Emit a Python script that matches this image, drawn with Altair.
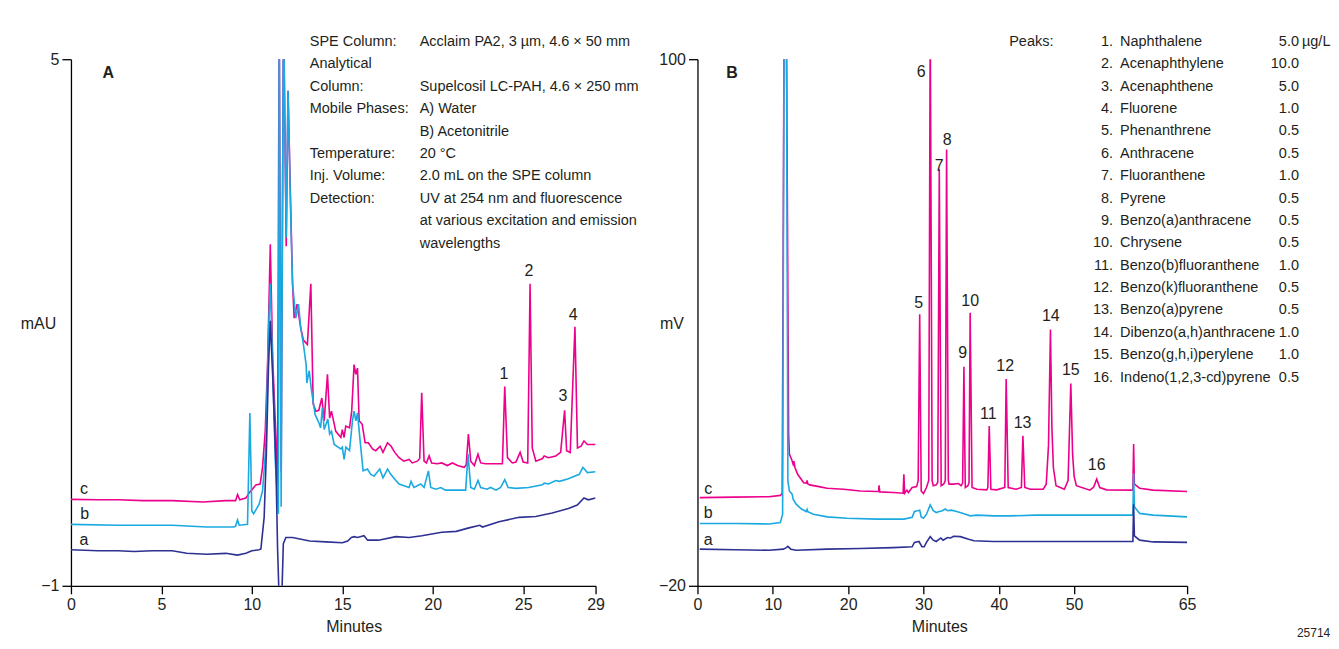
import altair as alt
import pandas as pd

FONT = "Liberation Sans, Arial, Helvetica, sans-serif"
INK = "#231f20"
COL_A = "#2e3192"   # trace a (navy)
COL_B = "#1ba9e1"   # trace b (cyan)
COL_C = "#ec008c"   # trace c (magenta)

# ---------------- Panel A (UV, mAU vs minutes) ----------------
A_XTICKS = [0, 5, 10, 15, 20, 25, 29]
A_YTICKS = [-1, 5]

A_a = [(0.0, -0.59), (1.5, -0.60), (2.6, -0.60), (3.5, -0.61), (4.5, -0.60), (5.6, -0.60),
       (6.4, -0.63), (7.5, -0.64), (8.56, -0.63), (9.2, -0.65), (9.67, -0.63), (10.0, -0.60),
       (10.4, -0.59), (10.5, -0.58), (10.68, -0.22), (10.8, 0.50), (10.92, 1.50), (11.02, 2.02),
       (11.15, 1.40), (11.33, 0.39), (11.42, -0.56), (11.5, -1.10), (11.66, -1.10), (11.74, -0.52),
       (11.88, -0.45), (12.25, -0.45), (13.2, -0.49), (14.1, -0.50), (15.0, -0.51), (15.3, -0.49),
       (15.5, -0.45), (15.66, -0.44), (15.84, -0.45), (16.2, -0.43), (16.4, -0.48), (17.0, -0.48),
       (17.96, -0.44), (18.7, -0.45), (19.4, -0.43), (20.5, -0.39), (21.3, -0.38), (22.0, -0.34),
       (22.6, -0.31), (22.75, -0.33), (23.66, -0.27), (24.77, -0.22), (25.69, -0.21), (26.6, -0.17),
       (27.5, -0.12), (27.99, -0.08), (28.36, 0.00), (28.6, -0.02), (29.0, 0.00)]

A_b = [(0.0, -0.30), (2.6, -0.31), (5.6, -0.31), (7.5, -0.33), (9.0, -0.33), (9.1, -0.32),
       (9.21, -0.25), (9.3, -0.31), (9.76, -0.30), (9.89, 0.97), (10.0, -0.15), (10.1, -0.18),
       (10.4, -0.07), (10.59, 0.08), (10.77, 0.57), (10.92, 1.9), (11.02, 2.44), (11.15, 1.5),
       (11.3, 0.4), (11.47, -0.18), (11.51, 5.6), (11.62, -0.1), (11.75, 5.6), (11.9, 2.97),
       (12.0, 4.64), (12.15, 3.19), (12.25, 2.44), (12.43, 2.05), (12.58, 2.21), (12.7, 1.94),
       (12.85, 1.75), (13.0, 1.52), (13.04, 1.31), (13.17, 1.45), (13.3, 1.22), (13.5, 0.95),
       (13.7, 0.86), (13.8, 0.80), (13.9, 1.03), (14.0, 0.78), (14.2, 0.90), (14.3, 0.73),
       (14.4, 0.76), (14.55, 0.61), (14.92, 0.56), (15.0, 0.58), (15.1, 0.44), (15.2, 0.58),
       (15.4, 0.54), (15.56, 0.88), (15.65, 0.99), (15.75, 0.88), (15.84, 0.97), (16.0, 0.62),
       (16.15, 0.31), (16.39, 0.33), (16.57, 0.27), (16.76, 0.25), (17.07, 0.33), (17.25, 0.23),
       (17.5, 0.33), (17.68, 0.27), (17.96, 0.20), (18.14, 0.16), (18.69, 0.12), (18.8, 0.19),
       (18.96, 0.12), (19.34, 0.16), (19.52, 0.12), (19.76, 0.31), (19.89, 0.12), (20.17, 0.10),
       (20.45, 0.12), (20.7, 0.09), (21.26, 0.09), (21.82, 0.09), (21.95, 0.50), (22.1, 0.12),
       (22.3, 0.10), (22.5, 0.20), (22.65, 0.12), (23.0, 0.10), (23.2, 0.12), (23.5, 0.09),
       (23.75, 0.12), (23.98, 0.21), (24.17, 0.12), (24.6, 0.11), (25.3, 0.12), (26.06, 0.15),
       (26.16, 0.17), (26.4, 0.16), (26.8, 0.20), (27.0, 0.19), (27.5, 0.22), (27.86, 0.25),
       (28.1, 0.27), (28.3, 0.35), (28.55, 0.29), (29.0, 0.30)]

A_c = [(0.0, -0.015), (1.5, -0.02), (2.6, -0.02), (4.0, -0.03), (5.6, -0.03), (7.3, -0.045),
       (8.56, -0.03), (9.1, -0.03), (9.21, 0.04), (9.33, -0.02), (9.67, 0.0), (9.89, 0.07),
       (10.03, 0.10), (10.22, 0.15), (10.46, 0.16), (10.59, 0.35), (10.74, 0.76), (10.87, 1.53),
       (11.02, 2.89), (11.15, 1.6), (11.33, 0.7), (11.42, 0.12), (11.51, 5.6), (11.62, 0.3),
       (11.75, 5.6), (11.9, 2.87), (12.0, 4.64), (12.15, 3.3), (12.25, 2.44), (12.34, 2.05),
       (12.5, 2.21), (12.7, 1.94), (12.85, 1.8), (13.07, 1.75), (13.26, 2.44), (13.39, 1.07),
       (13.54, 0.99), (13.7, 1.0), (13.87, 1.14), (14.0, 0.88), (14.18, 1.41), (14.3, 0.91),
       (14.4, 0.99), (14.64, 0.76), (14.92, 0.69), (15.0, 0.78), (15.1, 0.69), (15.19, 0.82),
       (15.4, 0.80), (15.52, 0.99), (15.65, 1.52), (15.75, 1.41), (15.84, 1.48), (15.93, 0.88),
       (16.1, 0.84), (16.26, 0.63), (16.44, 0.63), (16.67, 0.56), (16.85, 0.54), (17.09, 0.59),
       (17.25, 0.52), (17.5, 0.63), (17.7, 0.59), (17.9, 0.52), (18.14, 0.46), (18.4, 0.42),
       (18.69, 0.44), (18.87, 0.40), (19.15, 0.42), (19.28, 0.45), (19.39, 1.20), (19.52, 0.42),
       (19.65, 0.40), (19.8, 0.48), (19.94, 0.40), (20.25, 0.39), (20.5, 0.40), (20.8, 0.37),
       (21.09, 0.40), (21.37, 0.37), (21.74, 0.35), (21.85, 0.38), (21.97, 0.73), (22.1, 0.42),
       (22.3, 0.37), (22.5, 0.50), (22.65, 0.40), (22.9, 0.39), (23.2, 0.39), (23.57, 0.39),
       (23.85, 0.39), (23.98, 1.27), (24.13, 0.46), (24.4, 0.40), (24.6, 0.41), (24.83, 0.52),
       (25.0, 0.41), (25.25, 0.40), (25.38, 2.44), (25.5, 0.57), (25.7, 0.42), (26.07, 0.45),
       (26.16, 0.48), (26.4, 0.46), (26.8, 0.48), (27.07, 0.52), (27.29, 1.00), (27.4, 0.54),
       (27.6, 0.52), (27.86, 1.95), (28.0, 0.57), (28.2, 0.59), (28.36, 0.65), (28.55, 0.61),
       (29.0, 0.61)]

A_PEAK_LABELS = ["1", "2", "3", "4"]
A_PEAK_T = [23.94, 25.32, 27.2, 27.77]
A_PEAK_V = [1.41, 2.59, 1.16, 2.09]

A_TRACE_LABELS = ["c", "b", "a"]
A_TRACE_T = [0.72, 0.76, 0.72]
A_TRACE_V = [0.10, -0.18, -0.48]

METHOD_KEYS = ["SPE Column:", "Analytical", "Column:", "Mobile Phases:", "Temperature:",
               "Inj. Volume:", "Detection:"]
METHOD_KEY_ROWS = [0, 1, 2, 3, 5, 6, 7]
METHOD_VALUES = ["Acclaim PA2, 3 µm, 4.6 × 50 mm", "Supelcosil LC-PAH, 4.6 × 250 mm",
                 "A) Water", "B) Acetonitrile", "20 °C", "2.0 mL on the SPE column",
                 "UV at 254 nm and fluorescence", "at various excitation and emission",
                 "wavelengths"]
METHOD_VALUE_ROWS = [0, 2, 3, 4, 5, 6, 7, 8, 9]

# ---------------- Panel B (fluorescence, mV vs minutes) ----------------
B_XTICKS = [0, 10, 20, 30, 40, 50, 65]
B_YTICKS = [-20, 100]

B_a = [(0.3, -11.65), (5.0, -11.8), (9.5, -11.9), (11.4, -11.65), (11.8, -11.3), (12.0, -11.0),
       (12.4, -11.65), (13.1, -11.9), (17.2, -11.65), (21.6, -11.5), (26.0, -11.3), (28.5, -11.1),
       (28.8, -10.1), (29.4, -9.9), (29.8, -11.1), (30.1, -11.1), (30.4, -10.1), (30.9, -8.8),
       (31.3, -9.6), (31.7, -9.9), (32.3, -9.1), (32.6, -9.6), (33.2, -9.0), (33.6, -9.1),
       (34.0, -8.7), (34.9, -8.8), (36.0, -9.4), (36.7, -9.75), (39.3, -9.9), (41.6, -9.9),
       (50.0, -9.9), (57.8, -9.9), (57.9, -1.4), (58.0, -8.6), (58.7, -9.6), (60.5, -10.0),
       (65.0, -10.1)]

B_b = [(0.3, -5.8), (5.0, -5.8), (9.5, -5.9), (11.0, -5.6), (11.3, -3.7), (11.5, 110.0),
       (11.8, 110.0), (12.0, 3.9), (12.2, 1.6), (12.56, 0.88), (12.7, -0.26), (13.1, -1.4),
       (13.8, -2.5), (14.45, -3.07), (14.55, -2.6), (14.65, -3.1), (15.4, -3.7), (17.2, -4.3),
       (19.85, -4.6), (23.8, -4.8), (27.4, -4.8), (28.5, -4.4), (28.8, -3.07), (29.2, -2.9),
       (29.5, -2.76), (29.7, -4.3), (30.0, -4.6), (30.4, -3.68), (30.9, -1.55), (31.3, -2.9),
       (31.7, -3.3), (32.1, -3.07), (32.5, -2.9), (32.9, -2.5), (33.2, -2.9), (33.7, -2.76),
       (34.4, -3.07), (35.3, -3.5), (36.2, -4.06), (37.1, -3.9), (39.3, -4.06), (41.6, -4.06),
       (45.0, -3.9), (50.0, -3.9), (57.8, -3.9), (57.9, 5.66), (58.0, -2.0), (58.7, -3.5),
       (60.5, -3.9), (65.0, -4.3)]

B_c = [(0.3, 0.1), (5.0, 0.2), (9.5, 0.3), (11.0, 0.6), (11.25, 1.0), (11.5, 110.0),
       (11.8, 110.0), (12.1, 14.5), (12.2, 10.0), (12.56, 8.5), (12.7, 7.7), (12.8, 8.4),
       (12.95, 6.9), (13.3, 5.4), (14.1, 3.5), (14.45, 3.4), (14.55, 4.0), (14.65, 3.2),
       (14.9, 3.0), (16.3, 2.55), (17.2, 2.24), (19.4, 2.0), (21.6, 1.6), (23.85, 1.5),
       (24.05, 1.5), (24.1, 2.9), (24.2, 1.4), (26.0, 1.26), (27.3, 1.1), (27.4, 5.4),
       (27.5, 1.1), (27.8, 1.8), (28.0, 1.26), (28.5, 2.4), (29.1, 2.6), (29.3, 4.0),
       (29.5, 41.9), (29.7, 1.6), (30.0, 1.03), (30.4, 2.4), (30.7, 4.0), (30.9, 110.0),
       (31.15, 4.0), (31.3, 2.8), (31.7, 3.0), (31.9, 3.6), (32.1, 74.9), (32.35, 2.8),
       (32.7, 3.2), (32.9, 4.0), (33.07, 79.4), (33.3, 4.0), (33.4, 3.16), (34.0, 3.16),
       (34.65, 3.3), (35.0, 2.8), (35.2, 3.4), (35.37, 29.9), (35.55, 2.4), (35.9, 2.8),
       (36.05, 3.5), (36.2, 42.2), (36.45, 2.4), (37.1, 2.0), (38.4, 1.87), (38.55, 2.4),
       (38.73, 16.4), (38.95, 2.0), (39.7, 1.87), (40.8, 2.4), (40.98, 27.1), (41.25, 2.4),
       (42.3, 2.0), (43.0, 2.4), (43.2, 14.2), (43.45, 2.4), (44.2, 2.0), (45.9, 2.0),
       (46.3, 3.16), (46.6, 12.0), (46.86, 38.4), (47.05, 16.0), (47.25, 6.9), (47.6, 2.8),
       (48.7, 2.0), (49.2, 4.0), (49.56, 26.1), (49.8, 10.0), (50.0, 5.0), (50.3, 2.8),
       (52.1, 1.8), (52.6, 2.5), (53.0, 4.3), (53.4, 2.4), (54.3, 1.87), (57.8, 1.8),
       (57.9, 12.3), (58.0, 3.16), (58.7, 2.24), (60.5, 1.8), (65.0, 1.5)]

B_PEAK_LABELS = ["5", "6", "7", "8", "9", "10", "11", "12", "13", "14", "15", "16"]
B_PEAK_T = [29.35, 29.7, 32.1, 33.16, 35.2, 36.2, 38.6, 40.85, 43.15, 46.9, 49.56, 53.0]
B_PEAK_V = [44.5, 97.0, 75.6, 81.5, 33.1, 44.9, 19.2, 30.1, 17.2, 41.5, 29.1, 7.5]

B_TRACE_LABELS = ["c", "b", "a"]
B_TRACE_T = [1.42, 1.42, 1.42]
B_TRACE_V = [2.15, -3.5, -9.6]

PEAK_NAMES = ["Naphthalene", "Acenaphthylene", "Acenaphthene", "Fluorene", "Phenanthrene",
              "Anthracene", "Fluoranthene", "Pyrene", "Benzo(a)anthracene", "Chrysene",
              "Benzo(b)fluoranthene", "Benzo(k)fluoranthene", "Benzo(a)pyrene",
              "Dibenzo(a,h)anthracene", "Benzo(g,h,i)perylene", "Indeno(1,2,3-cd)pyrene"]
PEAK_AMOUNTS = ["5.0", "10.0", "5.0", "1.0", "0.5", "0.5", "1.0", "0.5", "0.5", "0.5",
                "1.0", "0.5", "0.5", "1.0", "1.0", "0.5"]

# ---------------- helpers ----------------
FS_TEXT = 14.5
FS_AXIS = 16


def line_layer(pairs, color, x, y):
    df = pd.DataFrame(pairs, columns=["t", "v"])
    return alt.Chart(df).mark_line(color=color, strokeWidth=1.6, clip=True).encode(x=x, y=y)


def text_layer(t, v, labels, x, y, **kw):
    df = pd.DataFrame({"t": t, "v": v, "label": labels})
    style = dict(font=FONT, fontSize=FS_AXIS, color=INK, baseline="middle", align="center")
    style.update(kw)
    return alt.Chart(df).mark_text(**style).encode(x=x, y=y, text="label:N")


# ---------------- Panel A ----------------
xA = alt.X("t:Q", scale=alt.Scale(domain=[0, 29], nice=False, zero=False),
           axis=alt.Axis(values=A_XTICKS, format="d", title="Minutes", titleX=283, titleY=41,
                         titleBaseline="middle"))
yA = alt.Y("v:Q", scale=alt.Scale(domain=[-1, 5], nice=False, zero=False),
           axis=alt.Axis(values=A_YTICKS, format="d", title="mAU", titleAngle=0, titleX=-33,
                         titleY=265, titleAlign="center", titleBaseline="middle"))

# method text rows (data units of panel A)
A_ROW_TOP, A_ROW_STEP = 5.197, 0.2553
A_KEY_T, A_VAL_T = 13.2, 19.28

layersA = [
    # invisible layout anchor: fixes the top-left corner of the whole figure
    text_layer([-3.425], [5.569], ["."], xA, yA, fontSize=1, opacity=0,
               align="left", baseline="top"),
    line_layer(A_c, COL_C, xA, yA),
    line_layer(A_b, COL_B, xA, yA),
    line_layer(A_a, COL_A, xA, yA),
    text_layer(A_PEAK_T, A_PEAK_V, A_PEAK_LABELS, xA, yA),
    text_layer(A_TRACE_T, A_TRACE_V, A_TRACE_LABELS, xA, yA),
    text_layer([2.06], [4.84], ["A"], xA, yA, fontWeight="bold", fontSize=16),
    text_layer([A_KEY_T] * len(METHOD_KEYS),
               [A_ROW_TOP - A_ROW_STEP * r for r in METHOD_KEY_ROWS],
               METHOD_KEYS, xA, yA, align="left", fontSize=FS_TEXT),
    text_layer([A_VAL_T] * len(METHOD_VALUES),
               [A_ROW_TOP - A_ROW_STEP * r for r in METHOD_VALUE_ROWS],
               METHOD_VALUES, xA, yA, align="left", fontSize=FS_TEXT),
]
panelA = alt.layer(*layersA).properties(width=525, height=527)

# ---------------- Panel B ----------------
xB = alt.X("t:Q", scale=alt.Scale(domain=[0, 65], nice=False, zero=False),
           axis=alt.Axis(values=B_XTICKS, format="d", title="Minutes", titleX=242, titleY=41,
                         titleBaseline="middle"))
yB = alt.Y("v:Q", scale=alt.Scale(domain=[-20, 100], nice=False, zero=False),
           axis=alt.Axis(values=B_YTICKS, format="d", title="mV", titleAngle=0, titleX=-26,
                         titleY=265, titleAlign="center", titleBaseline="middle"))

B_ROW_TOP, B_ROW_STEP = 103.94, 5.10
rowsB = [B_ROW_TOP - B_ROW_STEP * i for i in range(len(PEAK_NAMES))]
numbers = [f"{i + 1}." for i in range(len(PEAK_NAMES))]

layersB = [
    line_layer(B_c, COL_C, xB, yB),
    line_layer(B_b, COL_B, xB, yB),
    line_layer(B_a, COL_A, xB, yB),
    text_layer(B_PEAK_T, B_PEAK_V, B_PEAK_LABELS, xB, yB),
    text_layer(B_TRACE_T, B_TRACE_V, B_TRACE_LABELS, xB, yB),
    text_layer([4.58], [96.9], ["B"], xB, yB, fontWeight="bold", fontSize=16),
    text_layer([41.38], [rowsB[0]], ["Peaks:"], xB, yB, align="left", fontSize=FS_TEXT),
    text_layer([55.17] * len(numbers), rowsB, numbers, xB, yB, align="right", fontSize=FS_TEXT),
    text_layer([56.1] * len(PEAK_NAMES), rowsB, PEAK_NAMES, xB, yB, align="left",
               fontSize=FS_TEXT),
    text_layer([79.85] * len(PEAK_AMOUNTS), rowsB, PEAK_AMOUNTS, xB, yB, align="right",
               fontSize=FS_TEXT),
    text_layer([80.25], [rowsB[0]], ["µg/L"], xB, yB, align="left", fontSize=FS_TEXT),
    text_layer([84.0], [-30.7], ["25714"], xB, yB, fontSize=12, align="right"),
]
panelB = alt.layer(*layersB).properties(width=490, height=527)

chart = (
    alt.hconcat(panelA, panelB, spacing=102, bounds="flush")
    .properties(padding={"left": 0, "top": 0, "right": 0, "bottom": 0})
    .configure(font=FONT)
    .configure_view(stroke="transparent")
    .configure_axis(grid=False, domainColor="black", domainWidth=1.3, tickColor="black",
                    tickWidth=1.3, tickSize=8, labelFont=FONT, labelFontSize=FS_AXIS,
                    labelColor=INK, labelPadding=3, labelFlush=False, labelOverlap=False,
                    titleFont=FONT, titleFontSize=FS_AXIS, titleFontWeight="normal",
                    titleColor=INK)
    .configure_axisY(tickSize=9)
)

chart.save("out.html", embed_options={"renderer": "svg", "actions": False})
